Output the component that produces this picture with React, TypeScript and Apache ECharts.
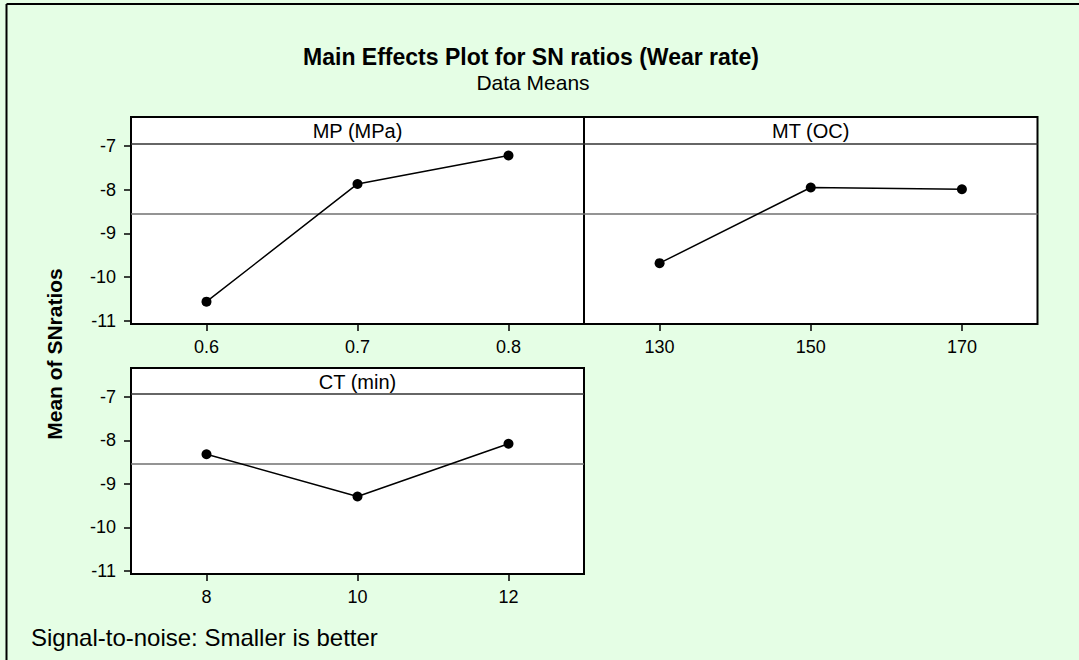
import React, { useEffect, useRef } from "react";
import * as echarts from "echarts";

// ---- data ----
const mpLevels = [0.6, 0.7, 0.8];
const mpSN = [-10.56, -7.87, -7.22];
const mtLevels = [130, 150, 170];
const mtSN = [-9.68, -7.95, -7.99];
const ctLevels = [8, 10, 12];
const ctSN = [-8.32, -9.29, -8.08];
const grandMean = -8.55;
const yTicks = [-11, -10, -9, -8, -7];
const panelNames = ["MP (MPa)", "MT (OC)", "CT (min)"];
const stripValue = -6.94;

const FONT = "'Liberation Sans', Arial, Helvetica, sans-serif";

export default function App() {
  const ref = useRef<HTMLDivElement>(null);
  useEffect(() => {
    if (!ref.current) return;
    const chart = echarts.init(ref.current, undefined, { renderer: "svg" });

    const grids = [
      { left: 131, top: 117, width: 453, height: 207 },
      { left: 584, top: 117, width: 453.5, height: 207 },
      { left: 131, top: 368, width: 453, height: 206 },
    ];
    const xRanges = [
      { min: 0.55, max: 0.85, ticks: mpLevels },
      { min: 120, max: 180, ticks: mtLevels },
      { min: 7, max: 13, ticks: ctLevels },
    ];
    const seriesData = [
      mpLevels.map((x, i) => [x, mpSN[i]]),
      mtLevels.map((x, i) => [x, mtSN[i]]),
      ctLevels.map((x, i) => [x, ctSN[i]]),
    ];

    const option: any = {
      animation: false,
      backgroundColor: "#E5FEE5",
      textStyle: { fontFamily: FONT },
      grid: grids.map((g) => ({
        ...g,
        show: true,
        backgroundColor: "#ffffff",
        borderColor: "#000000",
        borderWidth: 2,
        containLabel: false,
      })),
      xAxis: xRanges.map((r, i) => ({
        type: "value",
        gridIndex: i,
        min: r.min,
        max: r.max,
        axisLine: { show: false },
        splitLine: { show: false },
        axisTick: {
          show: true,
          inside: false,
          length: 7,
          customValues: r.ticks,
          lineStyle: { color: "#000", width: 1.5 },
        },
        axisLabel: {
          show: true,
          customValues: r.ticks,
          margin: 14,
          color: "#000",
          fontSize: 18,
          fontFamily: FONT,
          formatter: (v: number) => String(v),
        },
      })),
      yAxis: [0, 1, 2].map((i) => ({
        type: "value",
        gridIndex: i,
        min: -11.07,
        max: -6.34,
        axisLine: { show: false },
        splitLine: { show: false },
        axisTick: {
          show: i !== 1,
          inside: false,
          length: 7,
          customValues: yTicks,
          lineStyle: { color: "#000", width: 1.5 },
        },
        axisLabel: {
          show: i !== 1,
          customValues: yTicks,
          margin: 15,
          color: "#000",
          fontSize: 18,
          fontFamily: FONT,
          formatter: (v: number) => String(v),
        },
      })),
      series: seriesData.map((d, i) => ({
        type: "line",
        xAxisIndex: i,
        yAxisIndex: i,
        data: d,
        symbol: "circle",
        symbolSize: 10,
        itemStyle: { color: "#000" },
        lineStyle: { color: "#000", width: 1.5 },
        z: 5,
        markLine: {
          silent: true,
          symbol: "none",
          label: { show: false },
          data: [
            { yAxis: grandMean, lineStyle: { color: "#707070", width: 1.5, type: "solid" } },
            { yAxis: stripValue, lineStyle: { color: "#333333", width: 1.5, type: "solid" } },
          ],
        },
      })),
      graphic: [
        { type: "line", shape: { x1: 6.5, y1: 4, x2: 1079, y2: 4 }, style: { stroke: "#000", lineWidth: 2 } },
        { type: "line", shape: { x1: 6.5, y1: 4, x2: 6.5, y2: 660 }, style: { stroke: "#000", lineWidth: 2 } },
        {
          type: "text", x: 531, y: 57,
          style: { text: "Main Effects Plot for SN ratios (Wear rate)", font: `bold 23px ${FONT}`, fill: "#000", textAlign: "center", textVerticalAlign: "middle" },
        },
        {
          type: "text", x: 533, y: 82,
          style: { text: "Data Means", font: `21px ${FONT}`, fill: "#000", textAlign: "center", textVerticalAlign: "middle" },
        },
        ...panelNames.map((n, i) => ({
          type: "text",
          x: grids[i].left + grids[i].width / 2,
          y: grids[i].top + 14,
          style: { text: n, font: `20px ${FONT}`, fill: "#000", textAlign: "center", textVerticalAlign: "middle" },
          z: 10,
        })),
        {
          type: "text", x: 54, y: 354, rotation: Math.PI / 2,
          style: { text: "Mean of SNratios", font: `bold 21px ${FONT}`, fill: "#000", textAlign: "center", textVerticalAlign: "middle" },
        },
        {
          type: "text", x: 31, y: 637,
          style: { text: "Signal-to-noise: Smaller is better", font: `24px ${FONT}`, fill: "#000", textAlign: "left", textVerticalAlign: "middle" },
        },
      ],
    };
    chart.setOption(option);
    return () => chart.dispose();
  }, []);
  return (
    <div
      ref={ref}
      style={{ position: "fixed", left: 0, top: 0, width: 1079, height: 660 }}
    />
  );
}
